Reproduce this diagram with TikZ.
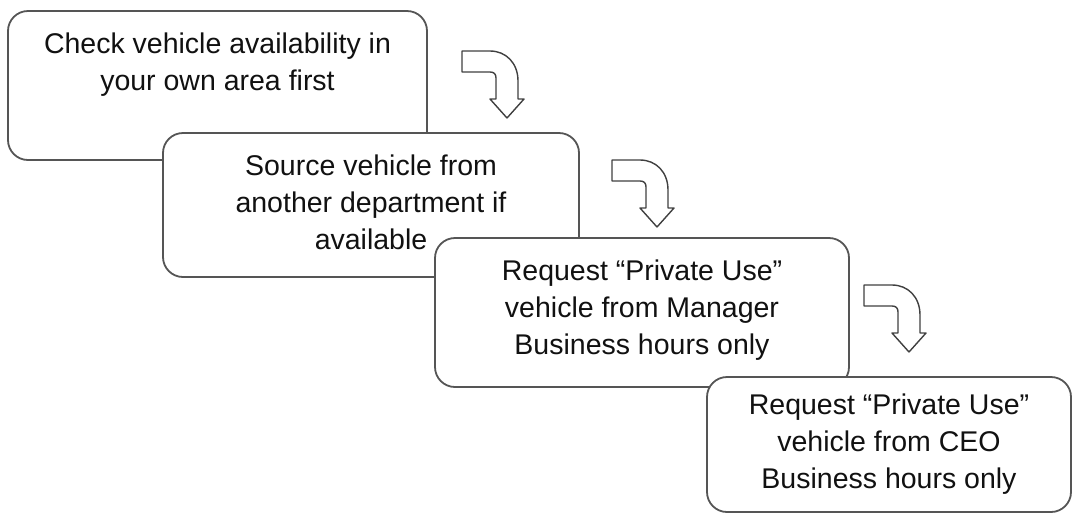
\documentclass[tikz,border=0pt]{standalone}
\usepackage{fontspec}
\setmainfont{Liberation Sans}
\definecolor{boxgray}{HTML}{555555}
\definecolor{arrgray}{HTML}{404040}
\definecolor{txtcol}{HTML}{111111}
\tikzset{
  box/.style={draw=boxgray, line width=1.8pt, fill=white, rounded corners=20pt, inner sep=0pt},
  txt/.style={font=\fontsize{28.5}{37}\selectfont, text=txtcol, align=center, anchor=north, inner sep=0pt},
  barrow/.style={draw=arrgray, line width=1.4pt, fill=white, line join=round},
  pics/bentarrow/.style={code={
    \draw[barrow] (0,0) -- (0,21) -- (28,21) .. controls (32,21) and (34,23) .. (34,27)
      -- (34,48) -- (28,48) -- (45,67) -- (62,48) -- (56,48) -- (56,30)
      .. controls (56,12) and (44,0) .. (28,0) -- cycle;
  }}
}
\begin{document}
\begin{tikzpicture}[x=1pt,y=-1pt]
\useasboundingbox (0,0) rectangle (1073,515);
% box 1
\node[box, minimum width=419pt, minimum height=149pt] (b1) at (217.5,85.5) {};
\node[txt] (t1) at ([yshift=-23pt]b1.north) {Check vehicle availability in\\your own area first};
\pic (a1) at (462,51) {bentarrow};
% box 2
\node[box, minimum width=416pt, minimum height=144pt] (b2) at (371,205) {};
\node[txt] (t2) at ([yshift=-23pt]b2.north) {Source vehicle from\\another department if\\available};
\pic (a2) at (612,160) {bentarrow};
% box 3
\node[box, minimum width=414pt, minimum height=149pt] (b3) at (642,312.5) {};
\node[txt] (t3) at ([yshift=-23pt]b3.north) {Request “Private Use”\\vehicle from Manager\\Business hours only};
\pic (a3) at (864,285) {bentarrow};
% box 4
\node[box, minimum width=364pt, minimum height=135pt] (b4) at (889,444.5) {};
\node[txt] (t4) at ([yshift=-18pt]b4.north) {Request “Private Use”\\vehicle from CEO\\Business hours only};
\end{tikzpicture}
\end{document}
